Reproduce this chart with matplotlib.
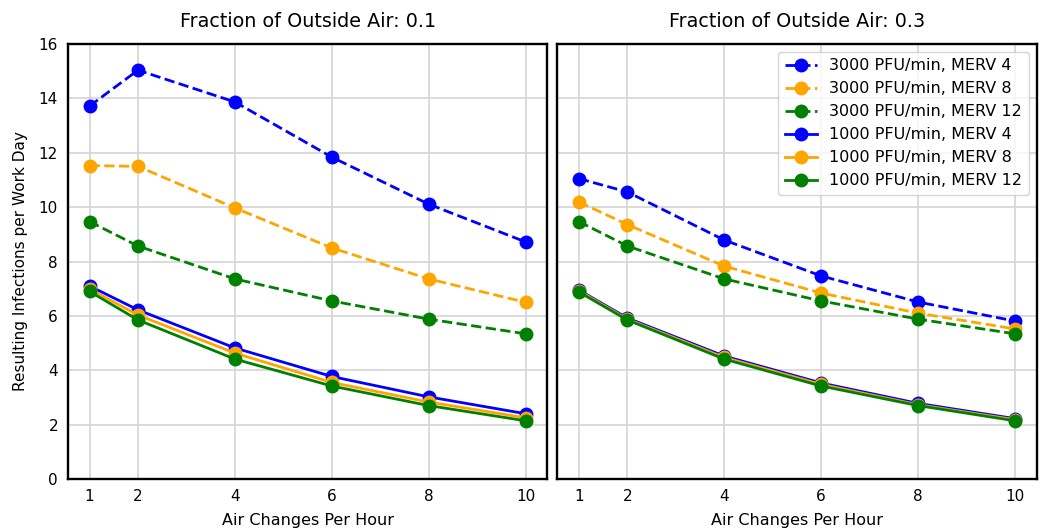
import matplotlib
matplotlib.use('Agg')
import matplotlib.pyplot as plt

ach = [1, 2, 4, 6, 8, 10]

# fraction of outside air 0.1
hi_m4_01 = [13.72, 15.04, 13.87, 11.84, 10.11, 8.72]
hi_m8_01 = [11.53, 11.50, 9.97, 8.50, 7.36, 6.50]
hi_m12_01 = [9.47, 8.57, 7.36, 6.55, 5.88, 5.34]
lo_m4_01 = [7.10, 6.22, 4.82, 3.77, 3.02, 2.40]
lo_m8_01 = [6.99, 6.03, 4.63, 3.55, 2.83, 2.25]
lo_m12_01 = [6.90, 5.85, 4.41, 3.42, 2.70, 2.14]

# fraction of outside air 0.3
hi_m4_03 = [11.05, 10.56, 8.79, 7.47, 6.51, 5.81]
hi_m8_03 = [10.19, 9.36, 7.83, 6.84, 6.10, 5.52]
hi_m12_03 = [9.47, 8.57, 7.36, 6.55, 5.88, 5.34]
lo_m4_03 = [6.95, 5.92, 4.52, 3.53, 2.78, 2.22]
lo_m8_03 = [6.92, 5.88, 4.47, 3.48, 2.73, 2.18]
lo_m12_03 = [6.88, 5.85, 4.41, 3.42, 2.70, 2.14]

labels = ['3000 PFU/min, MERV 4', '3000 PFU/min, MERV 8', '3000 PFU/min, MERV 12',
          '1000 PFU/min, MERV 4', '1000 PFU/min, MERV 8', '1000 PFU/min, MERV 12']
colors = ['blue', 'orange', 'green', 'blue', 'orange', 'green']
styles = ['--', '--', '--', '-', '-', '-']

panels = [
    ('Fraction of Outside Air: 0.1', [hi_m4_01, hi_m8_01, hi_m12_01, lo_m4_01, lo_m8_01, lo_m12_01]),
    ('Fraction of Outside Air: 0.3', [hi_m4_03, hi_m8_03, hi_m12_03, lo_m4_03, lo_m8_03, lo_m12_03]),
]

fig, axes = plt.subplots(1, 2, figsize=(10.42, 5.31), dpi=100, sharey=True)
fig.subplots_adjust(left=0.065, right=0.995, top=0.917, bottom=0.098, wspace=0.02)

for ax, (title, series) in zip(axes, panels):
    for ys, lab, c, ls in zip(series, labels, colors, styles):
        ax.plot(ach, ys, ls, color=c, marker='o', markersize=9, linewidth=2, label=lab)
    ax.set_title(title, fontsize=13.8, pad=12)
    ax.set_xlabel('Air Changes Per Hour', fontsize=11.5, labelpad=7)
    ax.set_xticks(ach)
    ax.set_ylim(0, 16)
    ax.grid(True, color='#d4d4d4', linewidth=1.2)
    ax.set_axisbelow(True)
    for s in ax.spines.values():
        s.set_linewidth(1.7)
    ax.tick_params(labelsize=11, length=0, pad=7)

axes[0].set_ylabel('Resulting Infections per Work Day', fontsize=11, labelpad=8)
axes[1].tick_params(labelleft=False)
axes[1].legend(loc='upper right', fontsize=11.5)

fig.savefig('out.png', dpi=100)
